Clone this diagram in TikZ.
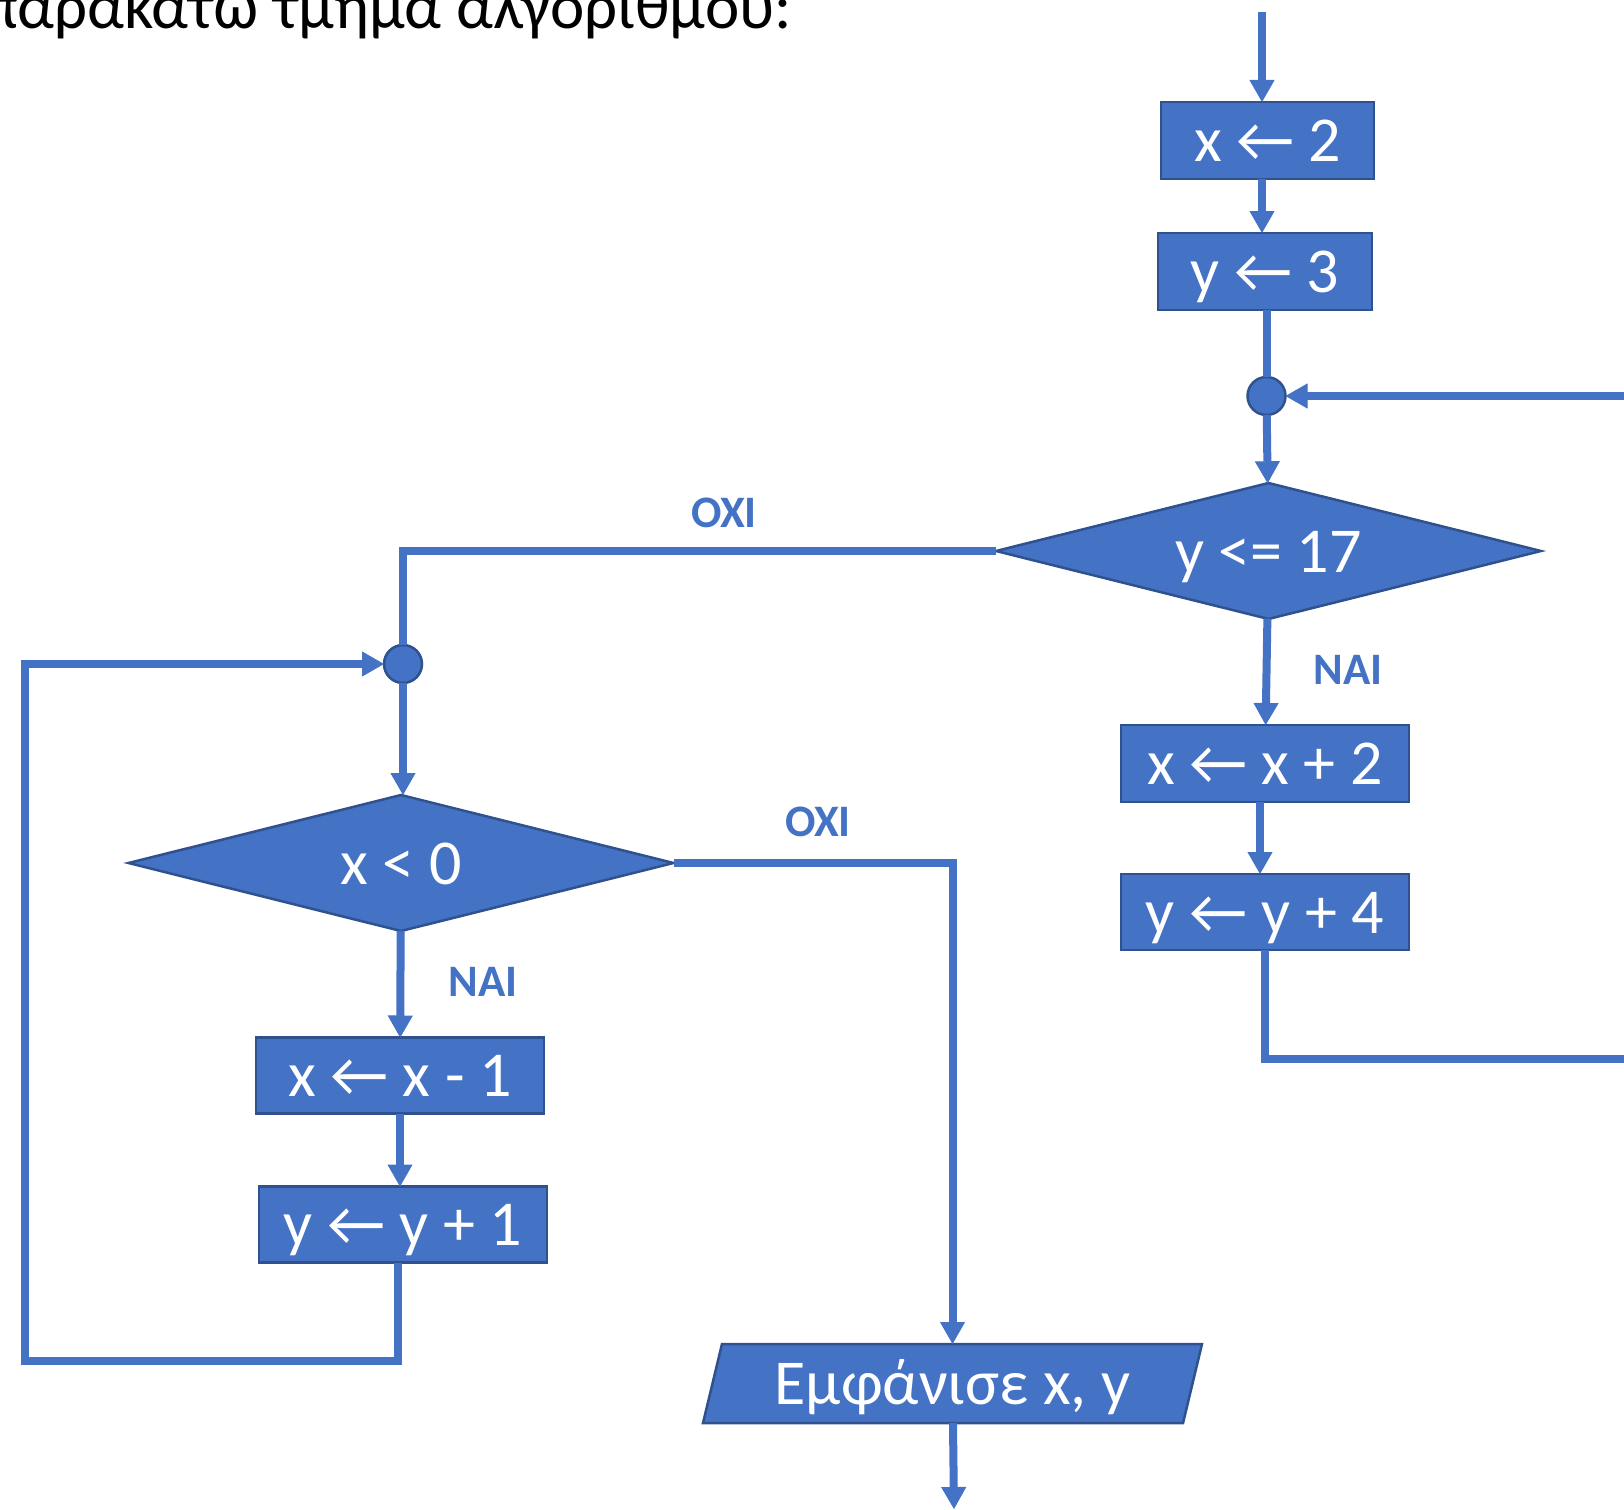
\documentclass[tikz,border=0pt]{standalone}
\usepackage{fontspec}
\setmainfont{Carlito}
\usetikzlibrary{shapes.geometric,arrows.meta}
\definecolor{ofblue}{HTML}{4472C4}
\definecolor{ofedge}{HTML}{2F528F}

\begin{document}
\begin{tikzpicture}[x=1pt,y=-1pt,
  boxtext/.style={text=white, font=\fontsize{64}{64}\selectfont,
    text height=42pt, text depth=0pt, inner sep=0pt, outer sep=0pt},
  proc/.style={boxtext, rectangle, draw=ofedge, line width=2.5pt, fill=ofblue},
  decide/.style={boxtext, diamond, aspect=4, draw=ofedge, line width=2.5pt,
    fill=ofblue, minimum width=545pt, minimum height=136pt},
  io/.style={boxtext, trapezium, trapezium left angle=76.5,
    trapezium right angle=103.5, trapezium stretches body=true,
    inner xsep=0pt, inner ysep=18.5pt,
    draw=ofedge, line width=2.5pt, fill=ofblue, minimum width=499pt},
  joint/.style={circle, draw=ofedge, line width=2.5pt, fill=ofblue,
    inner sep=0pt, outer sep=0pt, minimum size=38pt},
  ln/.style={draw=ofblue, line width=8pt},
  arr/.style={ln, -{Triangle[width=25pt,length=22pt,line width=1pt]}},
  lbl/.style={text=ofblue, font=\fontsize{45}{45}\selectfont\bfseries,
    anchor=base, inner sep=0pt},
]
\useasboundingbox (0,0) rectangle (1624,1509);
\clip (0,0) rectangle (1624,1509);

% heading line, partly above the frame
\node[anchor=base west, inner sep=0pt, font=\fontsize{65}{65}\selectfont]
  (title) at (-18,29) {παρακάτω τμήμα αλγορίθμου:};

% right column: initialisation and outer loop
\node[proc, minimum width=213pt, minimum height=77pt] (b1) at (1267.5,140.5) {x ← 2};
\node[proc, minimum width=214pt, minimum height=77pt] (b2) at (1265,271.5) {y ← 3};
\node[joint] (c1) at (1266.5,396) {};
\node[decide] (d1) at (1268.5,551) {y <= 17};
\node[proc, minimum width=288pt, minimum height=77pt] (b3) at (1265,763.5) {x ← x + 2};
\node[proc, minimum width=288pt, minimum height=76pt] (b4) at (1265,912) {y ← y + 4};

% left column: inner loop
\node[joint] (c2) at (403,664) {};
\node[decide] (d2) at (401,863) {x < 0};
\node[proc, minimum width=288pt, minimum height=76pt] (b5) at (400,1075.5) {x ← x - 1};
\node[proc, minimum width=288pt, minimum height=76pt] (b6) at (403,1224.5) {y ← y + 1};

% output
\node[io] (p1) at (952.5,1383.5) {Εμφάνισε x, y};

% free ends of connectors
\coordinate (in)   at (1262,12);
\coordinate (rin)  at (1640,396);
\coordinate (rout) at (1640,1059);
\coordinate (lp)   at (25,1361);
\coordinate (out)  at (954,1509);

% connectors of the right column
\draw[arr] (in) -- (b1.north -| in);
\draw[arr] (b1.south -| in) -- (b2.north -| in);
\draw[ln]  (b2.south -| c1) -- (c1);
\draw[arr] (rin) -- (c1);
\draw[arr] (c1) -- (d1);
\draw[arr] (d1) -- (b3);
\draw[arr] ([xshift=-5pt]b3.south) -- ([xshift=-5pt]b4.north);
\draw[ln]  (b4.south) |- (rout);

% connectors of the left column
\draw[ln]  (d1.west) -| (c2);
\draw[arr] ([xshift=-5pt]b6.south) |- (lp) |- (c2);
\draw[arr] (c2) -- (d2.north -| c2);
\draw[arr] (d2) -- (b5);
\draw[arr] (b5.south) -- (b5.south |- b6.north);
\draw[arr] (d2.east) -| (p1);
\draw[arr] (p1) -- (out);

% branch labels
\node[lbl] (l1) at (724,527) {OXI};
\node[lbl] (l2) at (1348,684) {NAI};
\node[lbl] (l3) at (818,836) {OXI};
\node[lbl] (l4) at (483,996) {NAI};
\end{tikzpicture}
\end{document}
